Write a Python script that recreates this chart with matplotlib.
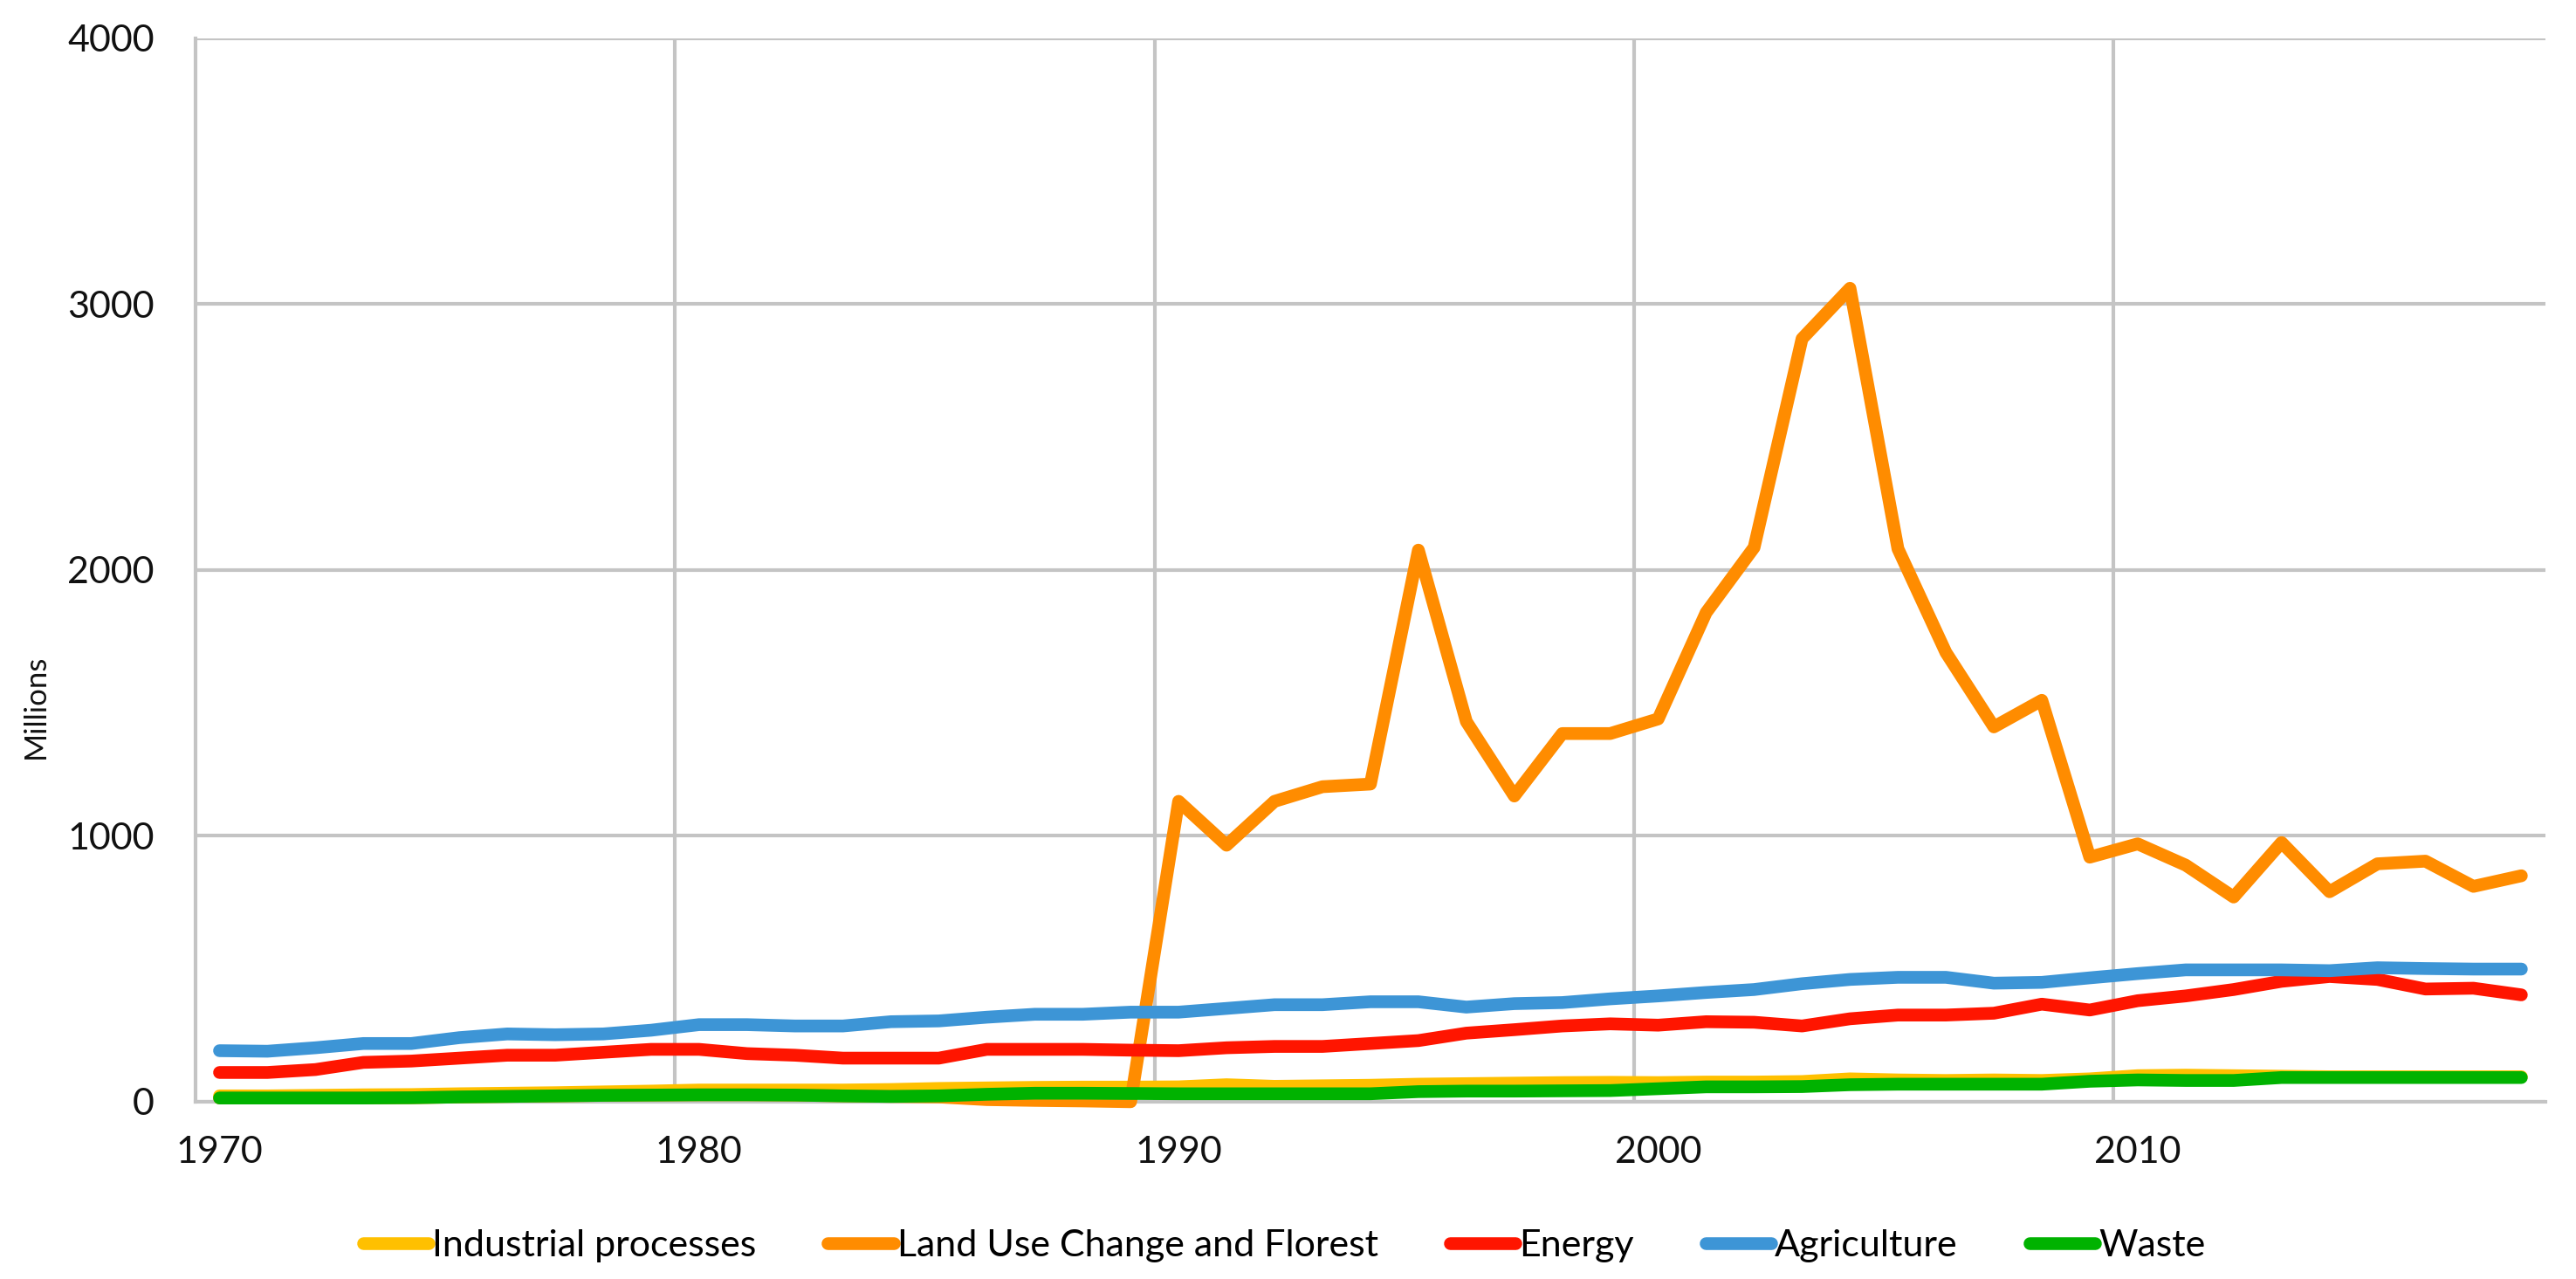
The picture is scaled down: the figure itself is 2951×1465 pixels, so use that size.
import matplotlib.pyplot as plt
import numpy as np

years = list(range(1970, 2019))

industrial = [22, 22, 24, 26, 27, 30, 32, 34, 37, 40,
              44, 44, 44, 44, 46, 50, 52, 54, 55, 55,
              56, 64, 58, 60, 62, 66, 68, 70, 72, 73,
              72, 74, 74, 76, 86, 82, 80, 82, 80, 86,
              98, 100, 98, 96, 94, 94, 94, 94, 94]

# antes de 1986 la serie queda tapada por Waste
land_use = [14, 14, 14, 14, 15, 18, 20, 22, 24, 25,
            26, 26, 25, 22, 20, 18, 8, 5, 3, 0,
            1130, 965, 1130, 1185, 1195, 2075, 1430, 1150, 1385, 1385,
            1440, 1840, 2085, 2870, 3060, 2080, 1690, 1410, 1510, 920,
            970, 890, 770, 975, 790, 895, 905, 810, 850]

energy = [110, 110, 121, 148, 153, 164, 175, 175, 186, 197,
          197, 181, 175, 164, 164, 164, 197, 197, 197, 194,
          192, 203, 208, 208, 219, 230, 258, 271, 285, 293,
          288, 301, 299, 285, 312, 326, 326, 333, 367, 345,
          380, 398, 422, 453, 471, 460, 424, 427, 402]

agriculture = [192, 190, 203, 219, 219, 241, 255, 252, 255, 269,
               290, 290, 285, 285, 301, 304, 318, 329, 329, 337,
               337, 351, 365, 365, 376, 376, 356, 369, 373, 387,
               398, 411, 422, 444, 460, 468, 468, 446, 449, 466,
               482, 496, 496, 496, 493, 504, 501, 499, 499]

waste = [14, 14, 14, 14, 15, 18, 20, 22, 24, 25,
         26, 26, 25, 22, 20, 22, 28, 32, 32, 31,
         30, 30, 30, 30, 30, 38, 40, 40, 41, 42,
         49, 56, 56, 57, 64, 66, 66, 66, 66, 77,
         82, 80, 80, 91, 91, 91, 91, 91, 91]

series = [
    ("Industrial processes", industrial, "#FFC000"),
    ("Land Use Change and Florest", land_use, "#FF8C00"),
    ("Energy", energy, "#FF1500"),
    ("Agriculture", agriculture, "#3D95D6"),
    ("Waste", waste, "#00B200"),
]

year_labels = [1970, 1980, 1990, 2000, 2010]
y_ticks = [0, 1000, 2000, 3000, 4000]

plt.rcParams['font.family'] = ['Lato', 'DejaVu Sans']

fig = plt.figure(figsize=(29.51, 14.65), dpi=100)
ax = fig.add_axes([0.0759, 0.1386, 0.9122, 0.8314])

grid_col = "#C4C4C4"
for nombre, valores, color in series:
    ax.plot(years, valores, color=color, lw=10.5, label=nombre,
            solid_capstyle='round', solid_joinstyle='round', clip_on=False, zorder=3)

ax.set_xlim(1969.5, 2018.5)
ax.set_ylim(0, 4000)

ax.set_xticks(year_labels)
ax.set_xticks([y - 0.5 for y in year_labels[1:]], minor=True)
ax.set_yticks(y_ticks)
ax.tick_params(axis='both', which='both', length=0, labelsize=31, colors='#111111')
ax.tick_params(axis='y', pad=34)
ax.tick_params(axis='x', pad=28)
ax.grid(axis='x', which='minor', color=grid_col, lw=3)
ax.grid(axis='y', which='major', color=grid_col, lw=3)
ax.set_axisbelow(True)

for side in ['top', 'right']:
    ax.spines[side].set_visible(False)
for side in ['left', 'bottom']:
    ax.spines[side].set_color(grid_col)
    ax.spines[side].set_linewidth(3)

ax.set_ylabel("Millions", fontsize=25, color='#111111')
ax.yaxis.set_label_coords(-0.062, 0.372)

fig.legend(loc='center', bbox_to_anchor=(0.4985, 0.026), ncol=5, frameon=False,
           fontsize=31, handlelength=1.75, handletextpad=0.1, columnspacing=1.9)

fig.savefig("out.png", dpi=100)
